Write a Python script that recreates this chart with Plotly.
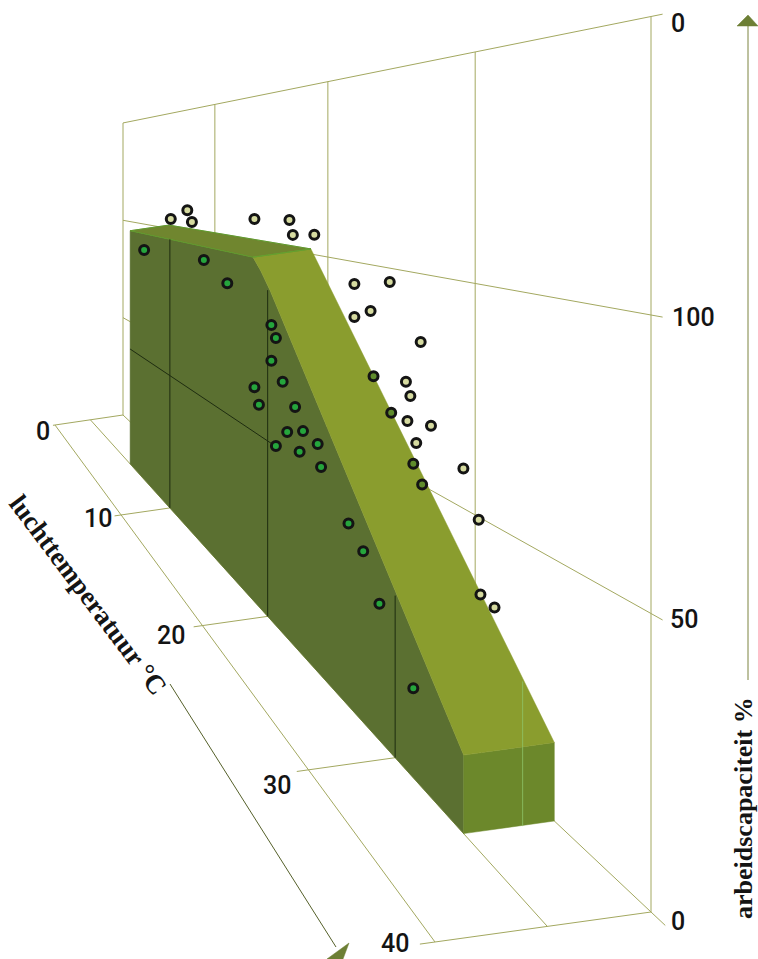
import numpy as np
import plotly.graph_objects as go

# ---- data: air temperature (deg C) and work capacity (%) ----
temp_ticks = [0, 10, 20, 30, 40]
cap_ticks = [0, 50, 100, 150]
cap_tick_labels = ["0", "50", "100", "0"]

temp_outside = [5.2, 7.0, 7.5, 13.5, 16.6, 16.9, 18.8, 21.8, 24.2, 21.8, 22.9, 26.3, 25.3, 25.6,
                25.4, 27.0, 26.0, 29.2, 30.2, 30.3, 31.1]
cap_outside = [104.3, 108.9, 104.3, 108.4, 109.4, 104.9, 105.8, 94.0, 96.5, 85.1, 87.9, 83.8, 73.0, 70.0,
               63.6, 65.0, 59.3, 58.8, 49.4, 33.6, 32.9]
temp_edge = [23.1, 24.3, 25.8, 26.4]
cap_edge = [71.2, 63.8, 54.0, 50.2]
temp_inside = [2.3, 8.8, 11.1, 15.0, 15.4, 15.0, 16.0, 13.5, 13.9, 17.1, 16.4, 17.8, 15.4, 17.5, 19.1, 19.4,
               21.4, 22.4, 23.5, 25.8]
cap_inside = [87.7, 90.2, 83.9, 74.6, 71.0, 63.0, 58.0, 51.4, 46.3, 52.2, 43.0, 46.2, 36.3, 39.3, 45.0, 38.9,
              28.3, 23.8, 13.5, 0.0]

block_temp_far = [5, 18.5, 34.5]
block_cap_far = [101.5, 101.5, 15]
block_temp_near = [5, 18.5, 19.3, 20.2, 34.5]
block_cap_near = [101.5, 101.5, 98, 93, 15]
face_line_temp = [10, 20, 30]
face_line_cap = [101.5, 93, 35]

# ---- perspective model of the picture ----
F_KNOTS = [0, 0.174, 0.388, 0.667, 1]
BACK0, BACK1 = (123, 415), (651, 912)
FRONT0, FRONT1 = (55, 425), (435, 942)
SCALE0, SCALE1 = 1.947, 5.97
DEPTH_BLOCK = 0.48


def frac(t):
    return np.interp(t, temp_ticks, F_KNOTS)


def proj_f(f, d=0.0, c=0.0):
    bx, by = BACK0[0] + (BACK1[0] - BACK0[0]) * f, BACK0[1] + (BACK1[1] - BACK0[1]) * f
    fx, fy = FRONT0[0] + (FRONT1[0] - FRONT0[0]) * f, FRONT0[1] + (FRONT1[1] - FRONT0[1]) * f
    return bx + (fx - bx) * d, by + (fy - by) * d - c * (SCALE0 + (SCALE1 - SCALE0) * f)


def proj(t, d=0.0, c=0.0):
    return proj_f(frac(t), d, c)


fig = go.Figure()
GRID = "#a3a860"
INK = "#141414"


def poly(points, color, name=""):
    xs, ys = zip(*points)
    fig.add_trace(go.Scatter(x=list(xs) + [xs[0]], y=list(ys) + [ys[0]], mode="lines", fill="toself",
                             fillcolor=color, line=dict(color=color, width=0.5), hoverinfo="skip", name=name))


def line(points, color=GRID, width=1.0):
    xs, ys = zip(*points)
    fig.add_trace(go.Scatter(x=list(xs), y=list(ys), mode="lines", line=dict(color=color, width=width),
                             hoverinfo="skip"))


# back wall
for t in temp_ticks:
    line([proj(t, 0, 0), proj(t, 0, cap_ticks[-1])])
for c in cap_ticks[1:]:
    line([proj_f(0, 0, c), proj_f(1.022, 0, c)])
# floor
for d in (0.0, DEPTH_BLOCK, 1.0):
    line([proj_f(0, d, 0), proj_f(1, d, 0)])
line([proj_f(1, 0, 0), proj_f(1.027, 0, 0)])
line([proj(0, 0, 0), proj(0, 1.03, 0)])
line([proj(40, 0, 0), proj(40, 1.07, 0)])
for t in temp_ticks[1:-1]:
    line([proj(t, DEPTH_BLOCK, 0), proj(t, 1.07, 0)])

# block
near = [proj(t, DEPTH_BLOCK, c) for t, c in zip(block_temp_near, block_cap_near)]
far = [proj(t, 0, c) for t, c in zip(block_temp_far, block_cap_far)]
t_end, t_start = block_temp_far[-1], block_temp_far[0]
poly([proj(t_end, DEPTH_BLOCK, 0), proj(t_start, DEPTH_BLOCK, 0)] + near, "#5b7031")
poly([near[-1], far[-1], proj(t_end, 0, 0), proj(t_end, DEPTH_BLOCK, 0)], "#6c882b")
poly([near[0], far[0], far[1], near[1]], "#70862f")
poly([near[1], far[1], far[2], near[4], near[3], near[2]], "#8a9d2e")
line([near[0], far[0], far[1], near[1], near[0]], "#5f9a2e", 1)
line([far[1], near[1]], "#66a030", 1)

# lines drawn on the near face of the block
for t, c in zip(face_line_temp, face_line_cap):
    line([proj(t, DEPTH_BLOCK, 0), proj(t, DEPTH_BLOCK, c)], "#1e2c10", 1)
line([proj(t_start, DEPTH_BLOCK, 50), proj(20.9, DEPTH_BLOCK, 50)], "#1e2c10", 1)
line([proj(32.7, 0, 22), proj(32.7, 0, -7)], "#8fc46a", 0.8)

# axes' arrows
line([(170, 684), (336, 947)], "#55602a", 1)
poly([(349, 943), (327, 959), (343, 959)], "#6d7f35")
line([(748, 24), (748, 680)], "#7c8440", 1)
poly([(748, 15), (737, 26), (758, 26)], "#6d7f35")


def points(ts, cs, fill, name):
    xy = [proj(t, 0, c) for t, c in zip(ts, cs)]
    fig.add_trace(go.Scatter(x=[p[0] for p in xy], y=[p[1] for p in xy], mode="markers", name=name,
                             marker=dict(size=9, color=fill, line=dict(color=INK, width=3))))


points(temp_outside, cap_outside, "#d6dba0", "outside")
points(temp_edge, cap_edge, "#5f8c2c", "edge")
points(temp_inside, cap_inside, "#25a53c", "inside")

NUM = dict(family="Roboto", size=25, color=INK, weight=500)
ann = []
for lab, x, y in zip(["0", "10", "20", "30", "40"], [43, 98, 171, 277, 395], [431, 518, 635, 785, 943]):
    ann.append(dict(x=x, y=y, text=lab, showarrow=False, font=NUM))
for lab, x, y in zip(cap_tick_labels, [678, 684, 693, 678], [921, 619, 317, 23]):
    ann.append(dict(x=x, y=y, text=lab, showarrow=False, font=NUM))
TITLE = dict(family="Liberation Serif", size=27, color=INK, weight=700)
ann.append(dict(x=88, y=595, text="luchttemperatuur °C", textangle=53, showarrow=False, font=TITLE))
RIGHT_TITLE = dict(family="Liberation Serif", size=26, color=INK, weight=700)
ann.append(dict(x=743, y=808, text="arbeidscapaciteit %", textangle=-90, showarrow=False, font=RIGHT_TITLE))

fig.update_layout(width=758, height=959, margin=dict(l=0, r=0, t=0, b=0), showlegend=False,
                  paper_bgcolor="white", plot_bgcolor="white", annotations=ann,
                  xaxis=dict(range=[0, 758], visible=False, fixedrange=True),
                  yaxis=dict(range=[959, 0], visible=False, fixedrange=True))
fig.write_html("out.html", post_script="document.body.style.margin='0';",
               config=dict(displayModeBar=False))
